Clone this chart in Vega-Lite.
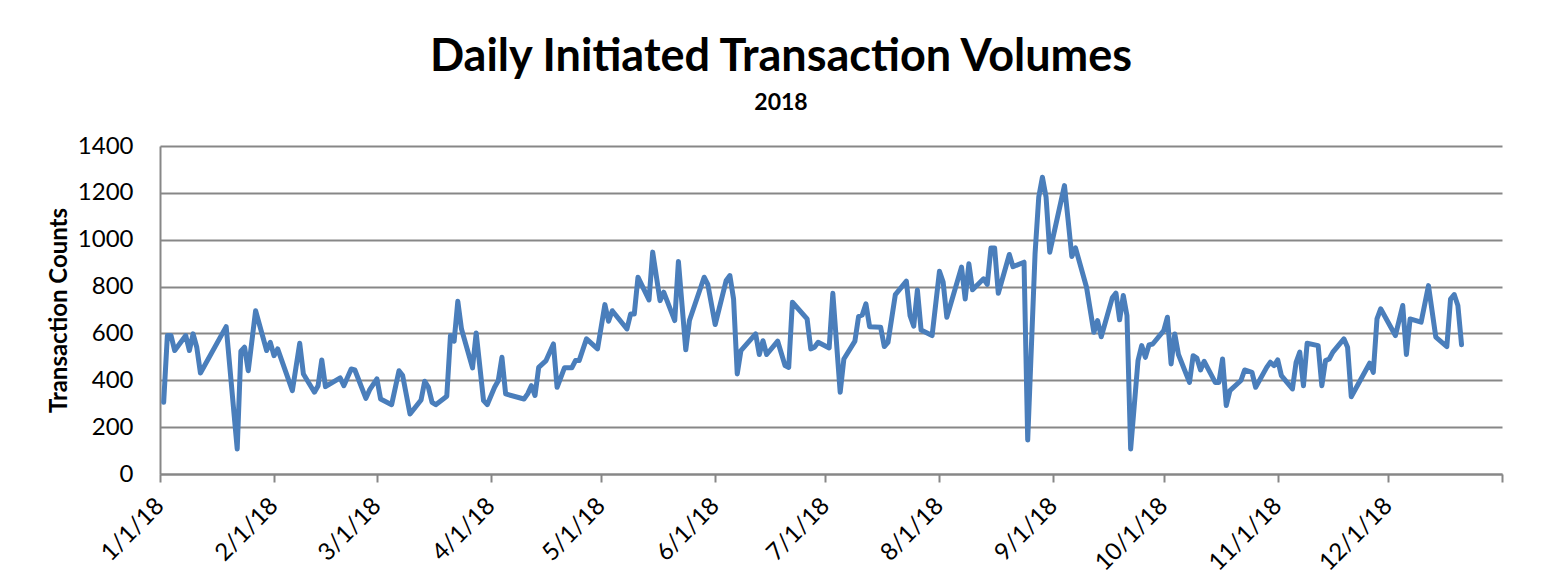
{
  "$schema": "https://vega.github.io/schema/vega-lite/v6.json",
  "width": 1342,
  "height": 328,
  "autosize": "none",
  "padding": {"left": 160, "top": 146, "right": 54, "bottom": 111},
  "background": "white",
  "title": {
    "text": "Daily Initiated Transaction Volumes",
    "subtitle": "2018",
    "font": "Lato",
    "fontSize": 45,
    "fontWeight": "bold",
    "color": "black",
    "subtitleFont": "Lato",
    "subtitleFontSize": 23,
    "subtitleFontWeight": "bold",
    "subtitleColor": "black",
    "subtitlePadding": 12,
    "anchor": "middle",
    "frame": "group",
    "dx": -50,
    "offset": 19
  },
  "config": {
    "view": {"stroke": null},
    "axis": {
      "labelFont": "Lato",
      "labelFontSize": 24,
      "labelColor": "black",
      "titleFont": "Lato",
      "titleColor": "black",
      "domainColor": "#878787",
      "domainWidth": 2,
      "tickColor": "#878787",
      "tickWidth": 2,
      "gridColor": "#878787",
      "gridWidth": 2
    }
  },
  "data": {
    "values": [
      {"date": "2018-01-02", "count": 306},
      {"date": "2018-01-03", "count": 591},
      {"date": "2018-01-04", "count": 591},
      {"date": "2018-01-05", "count": 527},
      {"date": "2018-01-08", "count": 591},
      {"date": "2018-01-09", "count": 527},
      {"date": "2018-01-10", "count": 598},
      {"date": "2018-01-11", "count": 541},
      {"date": "2018-01-12", "count": 431},
      {"date": "2018-01-19", "count": 629},
      {"date": "2018-01-22", "count": 107},
      {"date": "2018-01-23", "count": 524},
      {"date": "2018-01-24", "count": 541},
      {"date": "2018-01-25", "count": 441},
      {"date": "2018-01-27", "count": 697},
      {"date": "2018-01-30", "count": 527},
      {"date": "2018-01-31", "count": 562},
      {"date": "2018-02-01", "count": 505},
      {"date": "2018-02-02", "count": 534},
      {"date": "2018-02-06", "count": 356},
      {"date": "2018-02-08", "count": 558},
      {"date": "2018-02-09", "count": 427},
      {"date": "2018-02-12", "count": 349},
      {"date": "2018-02-13", "count": 377},
      {"date": "2018-02-14", "count": 487},
      {"date": "2018-02-15", "count": 373},
      {"date": "2018-02-19", "count": 410},
      {"date": "2018-02-20", "count": 377},
      {"date": "2018-02-22", "count": 448},
      {"date": "2018-02-23", "count": 444},
      {"date": "2018-02-26", "count": 323},
      {"date": "2018-02-27", "count": 359},
      {"date": "2018-03-01", "count": 406},
      {"date": "2018-03-02", "count": 320},
      {"date": "2018-03-05", "count": 296},
      {"date": "2018-03-07", "count": 441},
      {"date": "2018-03-08", "count": 420},
      {"date": "2018-03-10", "count": 256},
      {"date": "2018-03-13", "count": 316},
      {"date": "2018-03-14", "count": 396},
      {"date": "2018-03-15", "count": 370},
      {"date": "2018-03-16", "count": 306},
      {"date": "2018-03-17", "count": 296},
      {"date": "2018-03-20", "count": 332},
      {"date": "2018-03-21", "count": 591},
      {"date": "2018-03-22", "count": 567},
      {"date": "2018-03-23", "count": 737},
      {"date": "2018-03-24", "count": 619},
      {"date": "2018-03-27", "count": 453},
      {"date": "2018-03-28", "count": 602},
      {"date": "2018-03-30", "count": 313},
      {"date": "2018-03-31", "count": 296},
      {"date": "2018-04-02", "count": 370},
      {"date": "2018-04-03", "count": 398},
      {"date": "2018-04-04", "count": 498},
      {"date": "2018-04-05", "count": 342},
      {"date": "2018-04-10", "count": 320},
      {"date": "2018-04-11", "count": 342},
      {"date": "2018-04-12", "count": 377},
      {"date": "2018-04-13", "count": 335},
      {"date": "2018-04-14", "count": 455},
      {"date": "2018-04-16", "count": 484},
      {"date": "2018-04-18", "count": 555},
      {"date": "2018-04-19", "count": 370},
      {"date": "2018-04-21", "count": 453},
      {"date": "2018-04-23", "count": 453},
      {"date": "2018-04-24", "count": 484},
      {"date": "2018-04-25", "count": 484},
      {"date": "2018-04-27", "count": 577},
      {"date": "2018-04-30", "count": 534},
      {"date": "2018-05-02", "count": 723},
      {"date": "2018-05-03", "count": 652},
      {"date": "2018-05-04", "count": 697},
      {"date": "2018-05-08", "count": 619},
      {"date": "2018-05-09", "count": 683},
      {"date": "2018-05-10", "count": 683},
      {"date": "2018-05-11", "count": 840},
      {"date": "2018-05-14", "count": 743},
      {"date": "2018-05-15", "count": 947},
      {"date": "2018-05-17", "count": 740},
      {"date": "2018-05-18", "count": 776},
      {"date": "2018-05-21", "count": 655},
      {"date": "2018-05-22", "count": 907},
      {"date": "2018-05-24", "count": 530},
      {"date": "2018-05-25", "count": 655},
      {"date": "2018-05-29", "count": 840},
      {"date": "2018-05-30", "count": 809},
      {"date": "2018-06-01", "count": 638},
      {"date": "2018-06-04", "count": 826},
      {"date": "2018-06-05", "count": 847},
      {"date": "2018-06-06", "count": 747},
      {"date": "2018-06-07", "count": 427},
      {"date": "2018-06-08", "count": 527},
      {"date": "2018-06-12", "count": 598},
      {"date": "2018-06-13", "count": 510},
      {"date": "2018-06-14", "count": 569},
      {"date": "2018-06-15", "count": 510},
      {"date": "2018-06-18", "count": 567},
      {"date": "2018-06-20", "count": 463},
      {"date": "2018-06-21", "count": 455},
      {"date": "2018-06-22", "count": 733},
      {"date": "2018-06-26", "count": 662},
      {"date": "2018-06-27", "count": 534},
      {"date": "2018-06-28", "count": 541},
      {"date": "2018-06-29", "count": 562},
      {"date": "2018-07-02", "count": 538},
      {"date": "2018-07-03", "count": 771},
      {"date": "2018-07-05", "count": 349},
      {"date": "2018-07-06", "count": 491},
      {"date": "2018-07-09", "count": 567},
      {"date": "2018-07-10", "count": 672},
      {"date": "2018-07-11", "count": 679},
      {"date": "2018-07-12", "count": 726},
      {"date": "2018-07-13", "count": 629},
      {"date": "2018-07-16", "count": 626},
      {"date": "2018-07-17", "count": 544},
      {"date": "2018-07-18", "count": 562},
      {"date": "2018-07-20", "count": 766},
      {"date": "2018-07-23", "count": 823},
      {"date": "2018-07-24", "count": 676},
      {"date": "2018-07-25", "count": 631},
      {"date": "2018-07-26", "count": 785},
      {"date": "2018-07-27", "count": 615},
      {"date": "2018-07-30", "count": 591},
      {"date": "2018-08-01", "count": 865},
      {"date": "2018-08-02", "count": 819},
      {"date": "2018-08-03", "count": 669},
      {"date": "2018-08-07", "count": 883},
      {"date": "2018-08-08", "count": 747},
      {"date": "2018-08-09", "count": 897},
      {"date": "2018-08-10", "count": 786},
      {"date": "2018-08-13", "count": 833},
      {"date": "2018-08-14", "count": 809},
      {"date": "2018-08-15", "count": 965},
      {"date": "2018-08-16", "count": 965},
      {"date": "2018-08-17", "count": 771},
      {"date": "2018-08-20", "count": 937},
      {"date": "2018-08-21", "count": 885},
      {"date": "2018-08-24", "count": 904},
      {"date": "2018-08-25", "count": 145},
      {"date": "2018-08-27", "count": 940},
      {"date": "2018-08-28", "count": 1181},
      {"date": "2018-08-29", "count": 1267},
      {"date": "2018-08-30", "count": 1181},
      {"date": "2018-08-31", "count": 947},
      {"date": "2018-09-04", "count": 1231},
      {"date": "2018-09-05", "count": 1082},
      {"date": "2018-09-06", "count": 928},
      {"date": "2018-09-07", "count": 965},
      {"date": "2018-09-10", "count": 797},
      {"date": "2018-09-12", "count": 605},
      {"date": "2018-09-13", "count": 655},
      {"date": "2018-09-14", "count": 586},
      {"date": "2018-09-17", "count": 752},
      {"date": "2018-09-18", "count": 772},
      {"date": "2018-09-19", "count": 658},
      {"date": "2018-09-20", "count": 762},
      {"date": "2018-09-21", "count": 676},
      {"date": "2018-09-22", "count": 107},
      {"date": "2018-09-24", "count": 484},
      {"date": "2018-09-25", "count": 548},
      {"date": "2018-09-26", "count": 498},
      {"date": "2018-09-27", "count": 551},
      {"date": "2018-09-28", "count": 555},
      {"date": "2018-10-01", "count": 612},
      {"date": "2018-10-02", "count": 669},
      {"date": "2018-10-03", "count": 470},
      {"date": "2018-10-04", "count": 598},
      {"date": "2018-10-05", "count": 510},
      {"date": "2018-10-08", "count": 391},
      {"date": "2018-10-09", "count": 505},
      {"date": "2018-10-10", "count": 495},
      {"date": "2018-10-11", "count": 444},
      {"date": "2018-10-12", "count": 481},
      {"date": "2018-10-15", "count": 391},
      {"date": "2018-10-16", "count": 391},
      {"date": "2018-10-17", "count": 491},
      {"date": "2018-10-18", "count": 292},
      {"date": "2018-10-19", "count": 356},
      {"date": "2018-10-22", "count": 399},
      {"date": "2018-10-23", "count": 444},
      {"date": "2018-10-25", "count": 434},
      {"date": "2018-10-26", "count": 370},
      {"date": "2018-10-29", "count": 455},
      {"date": "2018-10-30", "count": 477},
      {"date": "2018-10-31", "count": 463},
      {"date": "2018-11-01", "count": 487},
      {"date": "2018-11-02", "count": 420},
      {"date": "2018-11-05", "count": 363},
      {"date": "2018-11-06", "count": 477},
      {"date": "2018-11-07", "count": 520},
      {"date": "2018-11-08", "count": 377},
      {"date": "2018-11-09", "count": 558},
      {"date": "2018-11-12", "count": 548},
      {"date": "2018-11-13", "count": 377},
      {"date": "2018-11-14", "count": 484},
      {"date": "2018-11-15", "count": 491},
      {"date": "2018-11-16", "count": 520},
      {"date": "2018-11-19", "count": 577},
      {"date": "2018-11-20", "count": 541},
      {"date": "2018-11-21", "count": 330},
      {"date": "2018-11-26", "count": 473},
      {"date": "2018-11-27", "count": 434},
      {"date": "2018-11-28", "count": 662},
      {"date": "2018-11-29", "count": 705},
      {"date": "2018-12-03", "count": 591},
      {"date": "2018-12-05", "count": 719},
      {"date": "2018-12-06", "count": 510},
      {"date": "2018-12-07", "count": 662},
      {"date": "2018-12-10", "count": 648},
      {"date": "2018-12-12", "count": 804},
      {"date": "2018-12-14", "count": 584},
      {"date": "2018-12-17", "count": 544},
      {"date": "2018-12-18", "count": 747},
      {"date": "2018-12-19", "count": 766},
      {"date": "2018-12-20", "count": 719},
      {"date": "2018-12-21", "count": 552}
    ]
  },
  "mark": {"type": "line", "color": "#4A7EBB", "strokeWidth": 5, "strokeJoin": "round", "strokeCap": "round"},
  "encoding": {
    "x": {
      "field": "date",
      "type": "temporal",
      "scale": {"type": "utc", "domain": ["2018-01-01", "2019-01-01"], "nice": false},
      "axis": {
        "title": null,
        "grid": false,
        "tickCount": {"interval": "month", "step": 1},
        "tickSize": 8,
        "labelAngle": -45,
        "labelAlign": "right",
        "labelBaseline": "middle",
        "labelPadding": 20,
        "labelOverlap": false,
        "labelExpr": "utcyear(datum.value) > 2018 ? '' : utcFormat(datum.value, '%-m/%-d/%y')"
      }
    },
    "y": {
      "field": "count",
      "type": "quantitative",
      "scale": {"domain": [0, 1400], "nice": false},
      "axis": {
        "title": "Transaction Counts",
        "titleFontSize": 24,
        "titleFontWeight": "bold",
        "titlePadding": 6,
        "format": "d",
        "values": [0, 200, 400, 600, 800, 1000, 1200, 1400],
        "ticks": false,
        "labelPadding": 27,
        "domain": true
      }
    }
  }
}
